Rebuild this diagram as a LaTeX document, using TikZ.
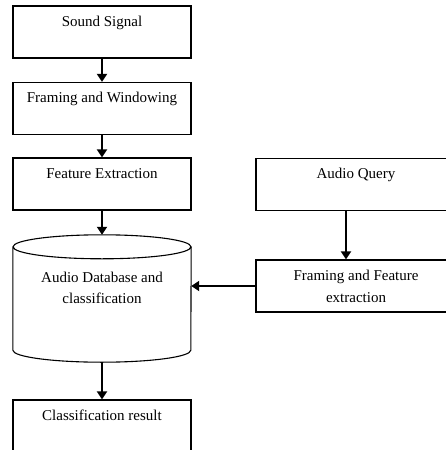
\documentclass[tikz,border=0pt]{standalone}
\usepackage{fontspec}
\setmainfont{Liberation Serif}
\usetikzlibrary{arrows.meta}

\tikzset{
  box/.style={draw, line width=1.3pt, minimum width=178pt, minimum height=52pt,
    inner ysep=5pt, text height=15pt, text depth=27pt, align=center,
    font=\fontsize{15}{22}\selectfont},
  arr/.style={line width=2pt, -{Triangle[length=8pt,width=10pt]}}
}

\begin{document}
\begin{tikzpicture}[x=1pt,y=-1pt]
  \useasboundingbox (0,0) rectangle (446,450);
  \clip (0,0) rectangle (446,450);
  \node[box] (sound) at (102,32) {Sound Signal};
  \node[box] (frame) at (102,108.5) {Framing and Windowing};
  \node[box] (feat) at (102,184) {Feature Extraction};
  \node[minimum width=178pt, minimum height=127pt, inner sep=0pt] (db) at (102,298.5) {};
  \draw[line width=1.1pt] ([yshift=-12pt]db.north) ellipse [x radius=89, y radius=12]
    ([yshift=-12pt]db.north west) -- ([yshift=12pt]db.south west)
      arc [start angle=180, end angle=0, x radius=89, y radius=12]
      -- ([yshift=-12pt]db.north east);
  \node[align=center, font=\fontsize{15}{21}\selectfont] (dbtext) at (102,288)
    {Audio Database and\\classification};
  \node[box] (result) at (102,426) {Classification result};
  \node[box, minimum width=200pt] (query) at (356,184.5) {Audio Query};
  \node[box, minimum width=200pt, text height=37pt, text depth=5pt] (qframe) at (356,286)
    {Framing and Feature\\extraction};
  \draw[arr] (sound) -- (frame);
  \draw[arr] (frame) -- (feat);
  \draw[arr] (feat) -- (db);
  \draw[arr] (db) -- (result);
  \draw[arr] ([xshift=-10pt]query.south) -- ([xshift=-10pt]qframe.north);
  \draw[arr] (qframe.west) -- (qframe.west -| db.east);
\end{tikzpicture}
\end{document}
